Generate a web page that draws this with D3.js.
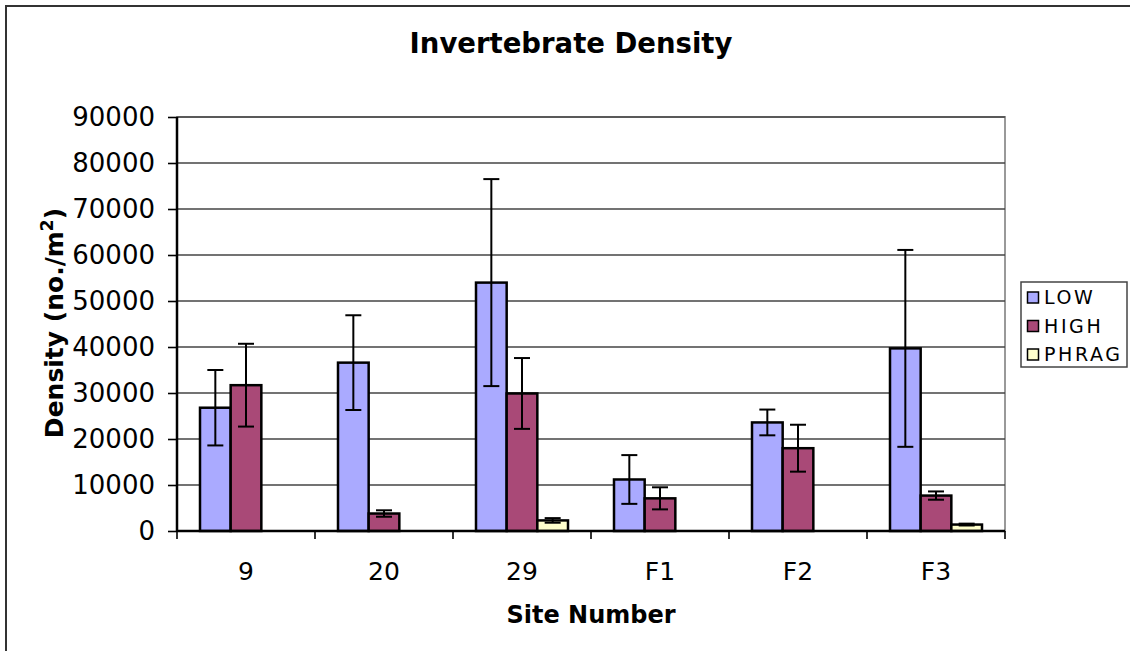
<!DOCTYPE html>
<html><head><meta charset="utf-8">
<script src="https://cdn.jsdelivr.net/npm/d3@7"></script>
<style>body{margin:0;background:#fff}svg{display:block}text{font-family:"DejaVu Sans",Verdana,sans-serif}</style>
</head><body><svg id="c" width="1130" height="651"></svg>
<script>
const categories = ["9","20","29","F1","F2","F3"];
const seriesNames = ["LOW","HIGH","PHRAG"];
const lowValues   = [26800, 36600, 54000, 11200, 23600, 39700];
const lowErrors   = [8200, 10300, 22500, 5300, 2800, 21400];
const highValues  = [31700, 3800, 29900, 7100, 18000, 7700];
const highErrors  = [9000, 700, 7700, 2400, 5100, 900];
const phragValues = [0, 0, 2300, 0, 0, 1400];
const phragErrors = [0, 0, 500, 0, 0, 200];
const yTicks = [0,10000,20000,30000,40000,50000,60000,70000,80000,90000];
const colors = ["#AAAAFF","#A94977","#FFFFCC"];

const svg = d3.select("#c");
svg.append("rect").attr("x",6).attr("y",6).attr("width",1140).attr("height",660)
  .attr("fill","#fff").attr("stroke","#333").attr("stroke-width",2);

const L=177,R=1005,T=117,B=531;
const x = d3.scaleBand().domain(categories).range([L,R]).paddingInner(1/3).paddingOuter(1/6);
const xs = d3.scaleBand().domain(seriesNames).range([0,x.bandwidth()]);
const y = d3.scaleLinear().domain([0,90000]).range([B,T]);

svg.append("rect").attr("x",L).attr("y",T).attr("width",R-L).attr("height",B-T)
  .attr("fill","#fff").attr("stroke","#999").attr("stroke-width",2);
svg.append("g").selectAll("line").data(yTicks.slice(1)).join("line")
  .attr("x1",L).attr("x2",R).attr("y1",d=>y(d)).attr("y2",d=>y(d))
  .attr("stroke","#444").attr("stroke-width",1.6);

const data = [lowValues,highValues,phragValues];
const errs = [lowErrors,highErrors,phragErrors];
seriesNames.forEach((s,si)=>{
  const g = svg.append("g");
  g.selectAll("rect").data(categories.map((c,i)=>({c,v:data[si][i],e:errs[si][i]})).filter(d=>d.v>0)).join("rect")
    .attr("x",d=>x(d.c)+xs(s)).attr("width",xs.bandwidth())
    .attr("y",d=>y(d.v)).attr("height",d=>B-y(d.v))
    .attr("fill",colors[si]).attr("stroke","#000").attr("stroke-width",2.5);
});
seriesNames.forEach((s,si)=>{
  const g = svg.append("g").attr("stroke","#000").attr("stroke-width",2);
  categories.forEach((c,i)=>{
    const v=data[si][i], e=errs[si][i];
    if(!(v>0)) return;
    const cx = x(c)+xs(s)+xs.bandwidth()/2;
    g.append("line").attr("x1",cx).attr("x2",cx).attr("y1",y(v+e)).attr("y2",y(v-e));
    g.append("line").attr("x1",cx-8).attr("x2",cx+8).attr("y1",y(v+e)).attr("y2",y(v+e));
    g.append("line").attr("x1",cx-8).attr("x2",cx+8).attr("y1",y(v-e)).attr("y2",y(v-e));
  });
});

const ya = svg.append("g").attr("transform",`translate(${L},0)`)
  .call(d3.axisLeft(y).tickValues(yTicks).tickSize(9).tickPadding(13).tickFormat(d3.format("d")));
ya.select(".domain").attr("stroke","#000").attr("stroke-width",2.5).attr("d",`M0,${T}V${B}`);
ya.selectAll(".tick line").attr("stroke","#000").attr("stroke-width",1.6);
ya.selectAll("text").attr("font-size",26).attr("fill","#000").attr("font-family","DejaVu Sans");

const xa = svg.append("g").attr("transform",`translate(0,${B})`);
xa.append("line").attr("x1",L).attr("x2",R).attr("stroke","#000").attr("stroke-width",2.5);
const bounds = categories.map(c=>x(c)-x.step()*x.paddingInner()/2).concat([R]);
xa.selectAll("line.t").data(bounds).join("line").attr("class","t")
  .attr("x1",d=>d).attr("x2",d=>d).attr("y1",0).attr("y2",8).attr("stroke","#000").attr("stroke-width",1.6);
xa.selectAll("text").data(categories).join("text")
  .attr("x",d=>x(d)+x.bandwidth()/2).attr("y",49).attr("text-anchor","middle")
  .attr("font-size",25).text(d=>d);

svg.append("text").attr("x",571).attr("y",53).attr("text-anchor","middle")
  .attr("font-size",27.5).attr("font-weight","bold").text("Invertebrate Density");
svg.append("text").attr("x",591).attr("y",623).attr("text-anchor","middle")
  .attr("font-size",24).attr("font-weight","bold").text("Site Number");
const yt = svg.append("text").attr("transform","translate(63,323) rotate(-90)").attr("text-anchor","middle")
  .attr("font-size",25).attr("font-weight","bold");
yt.append("tspan").text("Density (no./m");
yt.append("tspan").attr("dy",-10).attr("font-size",17).text("2");
yt.append("tspan").attr("dy",10).text(")");

const lg = svg.append("g");
lg.append("rect").attr("x",1021).attr("y",282).attr("width",106).attr("height",85)
  .attr("fill","#fff").attr("stroke","#444").attr("stroke-width",1.5);
seriesNames.forEach((s,i)=>{
  const cy = 297+i*28.5;
  lg.append("rect").attr("x",1027.5).attr("y",cy-5).attr("width",11).attr("height",11)
    .attr("fill",colors[i]).attr("stroke","#000").attr("stroke-width",1.5);
  lg.append("text").attr("x",1044).attr("y",cy+7).attr("font-size",19)
    .attr("letter-spacing",2.6).text(s);
});
</script></body></html>
